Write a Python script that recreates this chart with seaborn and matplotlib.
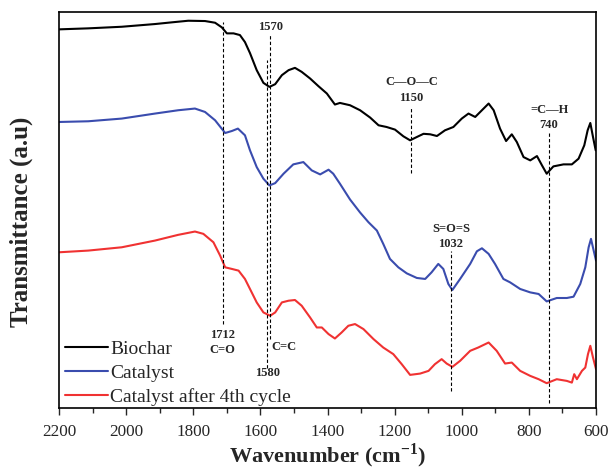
import pandas as pd
import matplotlib
matplotlib.use("Agg")
import matplotlib.pyplot as plt
from matplotlib.ticker import MultipleLocator
import seaborn as sns

# FTIR spectra (wavenumber in cm-1, transmittance in a.u.)
biochar_wn = [2200, 2113, 2013, 1914, 1864, 1815, 1765, 1735, 1715, 1700, 1680, 1661, 1646,
              1631, 1611, 1591, 1573, 1556, 1536, 1516, 1497, 1477, 1452, 1427, 1402, 1378,
              1363, 1333, 1303, 1273, 1248, 1224, 1199, 1174, 1154, 1134, 1114, 1094, 1074,
              1050, 1025, 1000, 980, 960, 940, 920, 905, 886, 868, 851, 836, 816, 796, 776,
              761, 747, 727, 697, 672, 652, 635, 625, 617, 609, 601]
biochar_t = [377.7, 378.7, 380.3, 383, 384.7, 386.3, 386, 384.3, 379.7, 373.7, 373.7, 372, 365,
             354, 337, 324.3, 320.3, 323, 332, 337, 339.3, 335.3, 328.7, 321, 313.7, 302.7,
             304.3, 302, 297, 289.7, 282, 280.3, 277.7, 271, 267, 270.3, 273.5, 273, 271.3,
             277, 280.3, 288.7, 293.7, 290.3, 297, 303.7, 297, 278.7, 266.3, 273, 265.3, 250.3,
             247, 251.3, 242, 233.7, 241, 243, 243, 248.7, 262, 277, 284.3, 270.3, 257]

catalyst_wn = [2200, 2113, 2013, 1914, 1845, 1795, 1765, 1735, 1705, 1685, 1667, 1646, 1631,
               1611, 1591, 1573, 1556, 1531, 1502, 1472, 1447, 1422, 1397, 1383, 1363, 1333,
               1303, 1278, 1253, 1234, 1214, 1189, 1164, 1134, 1109, 1090, 1070, 1055, 1040,
               1028, 1005, 975, 955, 940, 920, 901, 876, 856, 826, 796, 771, 747, 717, 687,
               667, 647, 632, 622, 615, 607, 600]
catalyst_t = [285.3, 286, 288.7, 293.7, 297, 298.7, 295.3, 287, 274.3, 276.3, 278.7, 272, 257,
              240.3, 228.7, 222, 224.3, 233.7, 243, 245.3, 237, 233, 237.7, 233.7, 223.7, 208,
              195, 185.3, 177, 163.7, 148.7, 140.3, 134.3, 129.7, 128.7, 135.3, 143.7, 138.7,
              123.7, 117.7, 128.7, 143.7, 156.3, 159.3, 153.7, 143.7, 128.7, 125.3, 118.7,
              115.3, 113.7, 106.3, 109.7, 109.7, 111, 123.7, 140.3, 160.3, 168.7, 157, 147]

cycle4_wn = [2200, 2113, 2013, 1914, 1845, 1795, 1770, 1740, 1720, 1705, 1685, 1665, 1646,
             1631, 1611, 1591, 1571, 1556, 1536, 1516, 1497, 1477, 1452, 1432, 1417, 1397,
             1378, 1358, 1338, 1318, 1293, 1263, 1234, 1204, 1179, 1154, 1124, 1099, 1080,
             1060, 1045, 1028, 1005, 975, 951, 920, 896, 871, 851, 826, 796, 771, 747, 717,
             687, 672, 665, 657, 642, 632, 624, 617, 609, 600]
cycle4_t = [155.3, 157, 160.3, 167, 172.7, 176, 173.7, 165.3, 152, 140.3, 138.7, 137, 128.7,
            118.7, 105.3, 95.3, 92, 95.3, 105.3, 107, 107.7, 102, 90.3, 80.3, 80.3, 73.7,
            69.3, 75.3, 82, 83.7, 78.7, 68.7, 60.3, 53.7, 43.7, 33, 34.3, 37, 43.7,
            48.7, 44.3, 41, 47, 57, 60.3, 65.3, 57, 44.3, 45.3, 37, 32, 28.7, 24.7, 28.7,
            27, 25.3, 33.7, 28.7, 37, 40.3, 53.7, 62, 50.3, 38.7]

series_names = ["Biochar", "Catalyst", "Catalyst after 4th cycle"]
series_colors = ["#000000", "#3a4cae", "#f03232"]

# peak markers: wavenumber and dashed line span
peak_wn = [1712, 1580, 1570, 1150, 1032, 740]
peak_span = [(84, 385), (40, 347), (69, 372), (234, 300), (17, 157), (5, 275)]

df = pd.concat([
    pd.DataFrame({"wavenumber": biochar_wn, "transmittance": biochar_t, "sample": series_names[0]}),
    pd.DataFrame({"wavenumber": catalyst_wn, "transmittance": catalyst_t, "sample": series_names[1]}),
    pd.DataFrame({"wavenumber": cycle4_wn, "transmittance": cycle4_t, "sample": series_names[2]}),
])

sns.set_style("ticks")
plt.rcParams["font.family"] = ["Liberation Serif", "DejaVu Serif"]
plt.rcParams["mathtext.fontset"] = "custom"
plt.rcParams["mathtext.rm"] = "Liberation Serif"
plt.rcParams["mathtext.bf"] = "Liberation Serif:bold"

fig = plt.figure(figsize=(6.11, 4.73), dpi=100)
ax = fig.add_axes([0.0966, 0.1375, 0.8789, 0.8371])

sns.lineplot(data=df, x="wavenumber", y="transmittance", hue="sample",
             palette=dict(zip(series_names, series_colors)), estimator=None,
             linewidth=1.5, ax=ax)

for wn, (y0, y1) in zip(peak_wn, peak_span):
    ax.plot([wn, wn], [y0, y1], color="black", lw=0.8, ls=(0, (3, 2)))

lab = dict(fontsize=9, fontweight="bold", ha="center", va="center")
ax.text(1712, 72.7, "1712", **lab)
ax.text(1712, 57.7, "C=O", **lab)
ax.text(1580, 35.3, "1580", **lab)
ax.text(1570, 379.7, "1570", **lab)
ax.text(1566, 61.3, "C=C", fontsize=9, fontweight="bold", ha="left", va="center")
ax.text(1150, 325.3, "C—O—C", **lab)
ax.text(1150, 309.7, "1150", **lab)
ax.text(1032, 178.7, "S=O=S", **lab)
ax.text(1032, 163.7, "1032", **lab)
ax.text(740, 297.7, "=C—H", **lab)
ax.text(740, 282.7, "740", **lab)

ax.set_xlim(2200, 600)
ax.set_ylim(0, 395)
ax.xaxis.set_major_locator(MultipleLocator(200))
ax.xaxis.set_minor_locator(MultipleLocator(100))
ax.tick_params(axis="x", which="major", direction="out", length=5, width=1, labelsize=12.3, pad=6.5)
ax.tick_params(axis="x", which="minor", direction="out", length=3.4, width=1)
ax.set_yticks([])
for sp in ax.spines.values():
    sp.set_visible(True)
    sp.set_linewidth(1.2)
    sp.set_color("black")

ax.set_xlabel("Wavenumber (cm$^{\\mathbf{-1}}$)", fontsize=16, fontweight="bold", labelpad=1)
ax.set_ylabel("Transmittance (a.u)", fontsize=18, fontweight="bold")
ax.yaxis.set_label_coords(-0.048, 0.47)

ax.legend(loc="lower left", bbox_to_anchor=(0.007, 0.0), frameon=False, fontsize=14,
          handlelength=2.2, handletextpad=0.15, labelspacing=0.33,
          borderaxespad=0.0, borderpad=0.1)

fig.savefig("out.png", dpi=100)
